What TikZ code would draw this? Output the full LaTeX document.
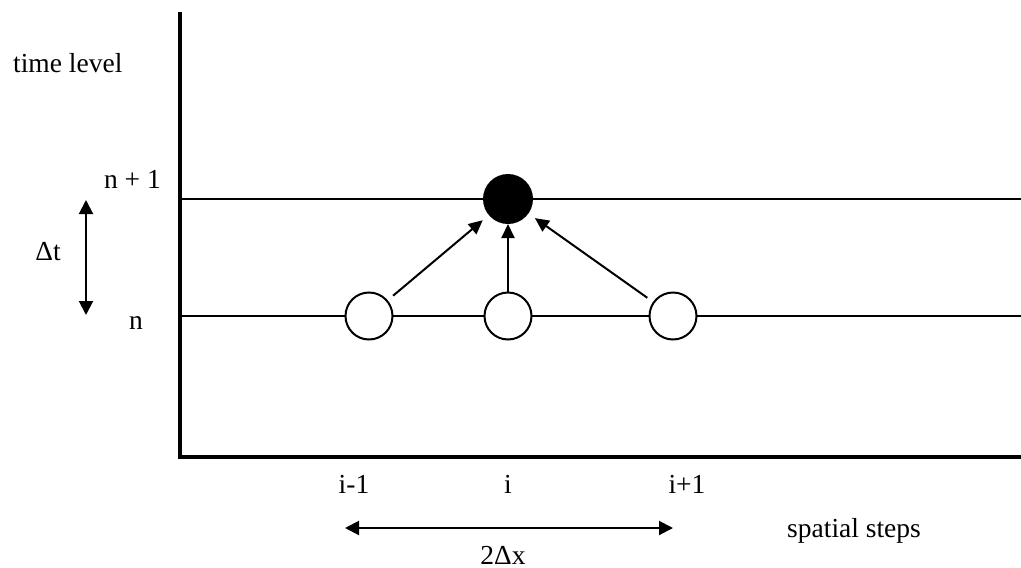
\documentclass[tikz,border=0pt]{standalone}
\usepackage{fontspec}
\setmainfont{Liberation Serif}
\usetikzlibrary{arrows.meta}
\begin{document}
\begin{tikzpicture}[x=1pt,y=-1pt,
  lbl/.style={font=\fontsize{27.5}{30}\selectfont, inner sep=0pt, anchor=base},
  axis/.style={line width=3.5pt},
  level/.style={line width=2pt},
  pt/.style={circle, draw, line width=2pt, minimum size=47pt, inner sep=0pt, fill=white},
  tip/.style={-{Triangle[length=14pt,width=13pt]}, line width=2pt},
  dtip/.style={{Triangle[length=14pt,width=14pt]}-{Triangle[length=14pt,width=14pt]}, line width=2pt}]
\useasboundingbox (0,0) rectangle (1021,568);
% axes
\coordinate (otop) at (180,12);
\coordinate (o) at (180,457);
\coordinate (xend) at (1021,457);
\draw[axis] (otop) -- (o) -- (xend);
% levels
\coordinate (u0) at (180,199);
\coordinate (u1) at (1021,199);
\coordinate (d0) at (180,316);
\coordinate (d1) at (1021,316);
\draw[level] (u0) -- (u1);
\draw[level] (d0) -- (d1);
% points
\node[pt] (l) at (369,316) {};
\node[pt] (c) at (508,316) {};
\node[pt] (r) at (673,316) {};
\node[pt, fill=black, minimum size=48pt] (top) at (508,199) {};
% arrows
\draw[tip, shorten <=7pt, shorten >=8pt] (l) -- (top);
\draw[tip] (c) -- (top);
\draw[tip, shorten <=7pt, shorten >=8pt] (r) -- (top);
% labels
\node[lbl, anchor=base west] (tl) at (13,72) {time level};
\node[lbl, anchor=base east] (n1) at (161,188) {n + 1};
\node[lbl] (n) at (136,329) {n};
\node[lbl] (dt) at (48,260) {Δt};
\coordinate (dta) at (86,200);
\coordinate (dtb) at (86,315);
\draw[dtip] (dta) -- (dtb);
\node[lbl] (im) at (354,493) {i-1};
\node[lbl] (ii) at (508,493) {i};
\node[lbl] (ip) at (687,493) {i+1};
\coordinate (dxa) at (345,528);
\coordinate (dxb) at (673,528);
\draw[dtip] (dxa) -- (dxb);
\node[lbl] (dx) at (503,564) {2Δx};
\node[lbl, anchor=base west] (ss) at (787,537) {spatial steps};
\end{tikzpicture}
\end{document}
